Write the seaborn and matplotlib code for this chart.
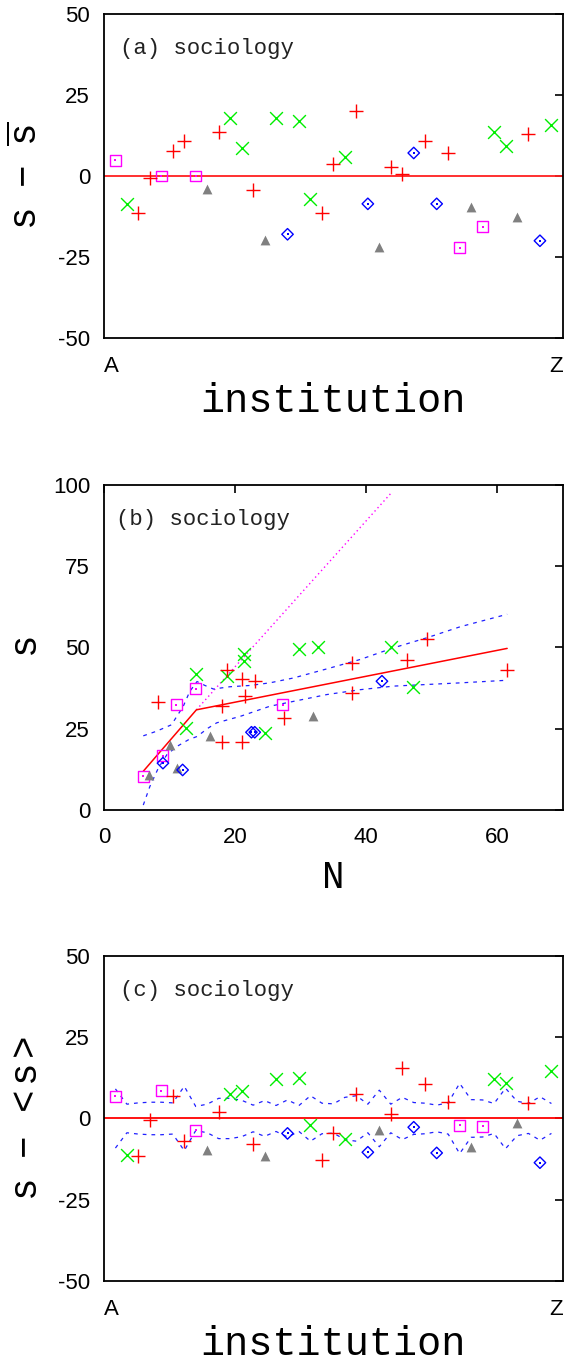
import matplotlib
matplotlib.use('Agg')
import matplotlib.pyplot as plt
import seaborn as sns
import numpy as np
import pandas as pd

# ---- data ----
# group of each institution, in A..Z order
inst_group = ['g1', 'g2', 'g3', 'g3', 'g1', 'g3', 'g3', 'g1', 'g4', 'g3',
              'g2', 'g2', 'g3', 'g4', 'g2', 'g5', 'g2', 'g2', 'g3', 'g3',
              'g2', 'g3', 'g5', 'g4', 'g3', 'g3', 'g5', 'g3', 'g5', 'g3',
              'g1', 'g4', 'g1', 'g2', 'g2', 'g4', 'g3', 'g5', 'g2']

# (a) s - mean(s)
dev_a = [4.9, -8.6, -11.5, -0.7, 0.0, 7.8, 10.7, 0.0, -4.0, 13.5,
         17.8, 8.5, -4.3, -19.8, 17.8, -18.0, 17.1, -7.2, -11.5, 3.7,
         5.8, 20.1, -8.6, -21.8, 2.9, 0.6, 7.1, 10.7, -8.6, 7.1,
         -22.2, -9.7, -15.7, 13.6, 9.3, -12.6, 12.9, -20.0, 15.6]

# (c) s - <s> and half width of the dashed band
dev_c = [6.9, -11.2, -11.4, -0.4, 8.6, 6.8, -7.0, -3.7, -9.7, 2.1,
         7.4, 8.3, -8.0, -11.4, 12.0, -4.6, 12.4, -2.0, -12.8, -4.5,
         -6.2, 7.4, -10.4, -3.7, 1.4, 15.6, -2.7, 10.5, -10.6, 5.0,
         -2.1, -8.9, -2.4, 12.2, 11.0, -1.4, 4.8, -13.6, 14.6]
band_c = [9.1, 4.4, 4.8, 5.0, 5.0, 4.8, 9.9, 3.7, 4.4, 6.2,
          6.2, 5.6, 4.1, 5.5, 4.0, 5.7, 4.0, 7.0, 4.7, 4.5,
          6.5, 7.0, 4.4, 8.7, 4.4, 6.5, 4.9, 4.7, 4.1, 4.8,
          10.8, 5.8, 5.7, 4.6, 9.3, 5.3, 4.6, 6.7, 4.6]

# (b) s versus N
N_b = [6.0, 9.0, 11.0, 14.0, 27.3,
       12.5, 14.0, 18.7, 21.3, 21.4, 24.6, 29.8, 32.6, 43.8, 47.2,
       8.3, 18.0, 18.0, 18.7, 21.0, 21.0, 21.5, 23.1, 27.5, 37.8, 37.8, 46.2, 49.3, 61.4,
       6.8, 10.0, 11.1, 16.2, 31.9,
       9.0, 12.0, 22.5, 23.0, 42.4]
s_b = [10.3, 16.7, 32.4, 37.3, 32.4,
       25.2, 41.7, 41.2, 48.1, 45.8, 23.7, 49.4, 50.1, 50.2, 37.9,
       33.1, 31.9, 20.8, 43.0, 40.3, 20.8, 35.2, 39.6, 28.4, 45.3, 36.0, 46.0, 52.5, 43.0,
       10.6, 20.1, 12.9, 22.8, 28.8,
       14.4, 12.3, 23.9, 23.9, 39.6]
grp_b = ['g1'] * 5 + ['g2'] * 10 + ['g3'] * 14 + ['g4'] * 5 + ['g5'] * 5

fit_N = [6.0, 14.1, 61.5]
fit_s = [11.9, 30.8, 49.7]
lin_N = [14.1, 43.8]
lin_s = [30.8, 97.5]
up_N = [6.0, 8.0, 10.3, 12.1, 13.1, 14.2, 15.4, 16.7, 19.2, 22.3, 25.3,
        28.9, 34.0, 39.1, 44.2, 49.3, 54.4, 61.5]
up_s = [22.8, 24.2, 26.2, 31.9, 36.5, 39.5, 38.3, 37.2, 37.9, 38.3, 39.1,
        40.6, 43.4, 46.3, 49.9, 53.0, 56.4, 60.2]
lo_N = [6.0, 7.0, 8.3, 9.6, 11.1, 12.9, 14.2, 15.9, 17.2, 20.8, 25.3,
        28.9, 34.0, 39.1, 44.2, 49.3, 54.4, 61.5]
lo_s = [1.5, 7.2, 12.9, 17.0, 19.5, 21.6, 22.6, 25.2, 26.8, 28.8, 31.9,
        33.4, 35.5, 37.0, 38.1, 38.6, 39.1, 39.9]

# ---- styling ----
sns.set_theme(style='white')
plt.rcParams['font.family'] = ['Liberation Sans', 'DejaVu Sans']
plt.rcParams['axes.unicode_minus'] = False
plt.rcParams['mathtext.fontset'] = 'custom'
plt.rcParams['mathtext.rm'] = 'Liberation Mono'
plt.rcParams['mathtext.it'] = 'Liberation Mono'
MONO = ['Liberation Mono', 'DejaVu Sans Mono']

marker_style = {
    'g1': dict(marker='s', color='#ff00ff', s=62, hollow=True),
    'g2': dict(marker='x', color='#00ee00', s=85, hollow=False),
    'g3': dict(marker='+', color='#ff0000', s=90, hollow=False),
    'g4': dict(marker='^', color='#808080', s=50, hollow=False),
    'g5': dict(marker='D', color='#0000ff', s=34, hollow=True),
}


def draw_points(ax, df):
    for g, st in marker_style.items():
        sub = df[df['group'] == g]
        if sub.empty:
            continue
        if st['hollow']:
            sns.scatterplot(data=sub, x='x', y='y', ax=ax, marker=st['marker'], s=st['s'],
                            color=st['color'], facecolor='none', edgecolor=st['color'],
                            linewidth=1.0, zorder=4)
            sns.scatterplot(data=sub, x='x', y='y', ax=ax, marker='s', s=1.5,
                            color=st['color'], linewidth=0, zorder=4)
        elif st['marker'] == '^':
            sns.scatterplot(data=sub, x='x', y='y', ax=ax, marker='^', s=st['s'],
                            color=st['color'], edgecolor=st['color'], linewidth=0, zorder=4)
        else:
            sns.scatterplot(data=sub, x='x', y='y', ax=ax, marker=st['marker'], s=st['s'],
                            color=st['color'], linewidth=1.0, zorder=4)


def frame(ax):
    for sp in ax.spines.values():
        sp.set_color('black')
        sp.set_linewidth(1.3)
    ax.tick_params(direction='in', length=6, width=1.2, color='black',
                   top=True, right=True, labelsize=16, labelcolor='black', pad=10)
    ax.grid(False)


def panel_text(ax, txt, x=0.035):
    ax.text(x, 0.895, txt, transform=ax.transAxes, ha='left', va='center',
            fontsize=16, family=MONO, color='#222222')


fig = plt.figure(figsize=(5.68, 13.61), dpi=100)
ax_a = fig.add_axes([0.183, 0.7517, 0.808, 0.2380])
ax_b = fig.add_axes([0.183, 0.4049, 0.808, 0.2388])
ax_c = fig.add_axes([0.183, 0.0588, 0.808, 0.2388])

inst = np.arange(1, len(inst_group) + 1)

# (a)
df_a = pd.DataFrame({'x': inst, 'y': dev_a, 'group': inst_group})
ax_a.axhline(0, color='#ff2020', lw=1.3, zorder=2)
draw_points(ax_a, df_a)

# (c)
df_c = pd.DataFrame({'x': inst, 'y': dev_c, 'group': inst_group})
band = pd.DataFrame({'x': inst, 'up': band_c, 'lo': -np.array(band_c)})
ax_c.axhline(0, color='#ff0000', lw=1.3, zorder=2)
sns.lineplot(data=band, x='x', y='up', ax=ax_c, color='#2020ff', lw=0.9,
             ls=(0, (3, 4)), estimator=None, sort=False, zorder=3)
sns.lineplot(data=band, x='x', y='lo', ax=ax_c, color='#2020ff', lw=0.9,
             ls=(0, (3, 4)), estimator=None, sort=False, zorder=3)
draw_points(ax_c, df_c)

for ax, lab, txt in [(ax_a, r'$\mathrm{s\ \ -\ \ \overline{s}}$', '(a) sociology'),
                     (ax_c, r'$\mathrm{s\ \ -\ \ <s>}$', '(c) sociology')]:
    ax.set_xlim(0, 40)
    ax.set_ylim(-50, 50)
    ax.set_yticks([-50, -25, 0, 25, 50])
    ax.set_xticks([0, 40])
    ax.set_xticklabels(['A', 'Z'])
    frame(ax)
    ax.tick_params(axis='x', length=0, pad=13)
    tl = ax.get_xticklabels()
    tl[0].set_ha('left')
    tl[1].set_ha('right')
    ax.set_xlabel('institution', fontsize=29, family=MONO, color='black')
    ax.xaxis.set_label_coords(0.5, -0.135)
    ax.set_ylabel(lab, fontsize=27, color='black', va='center')
    ax.yaxis.set_label_coords(-0.168, 0.5)
    panel_text(ax, txt)

# (b)
df_b = pd.DataFrame({'x': N_b, 'y': s_b, 'group': grp_b})
sns.lineplot(x=lin_N, y=lin_s, ax=ax_b, color='#ff00ff', lw=1.0,
             ls=(0, (1, 2.2)), estimator=None, sort=False, zorder=3)
sns.lineplot(x=fit_N, y=fit_s, ax=ax_b, color='#ff0000', lw=1.1,
             estimator=None, sort=False, zorder=3)
sns.lineplot(x=up_N, y=up_s, ax=ax_b, color='#2020ff', lw=0.9,
             ls=(0, (3, 4)), estimator=None, sort=False, zorder=3)
sns.lineplot(x=lo_N, y=lo_s, ax=ax_b, color='#2020ff', lw=0.9,
             ls=(0, (3, 4)), estimator=None, sort=False, zorder=3)
draw_points(ax_b, df_b)
ax_b.set_xlim(0, 70)
ax_b.set_ylim(0, 100)
ax_b.set_xticks([0, 20, 40, 60])
ax_b.set_yticks([0, 25, 50, 75, 100])
frame(ax_b)
ax_b.tick_params(axis='x', pad=12)
ax_b.set_xlabel('N', fontsize=27, family=MONO, color='black')
ax_b.xaxis.set_label_coords(0.5, -0.155)
ax_b.set_ylabel(r'$\mathrm{s}$', fontsize=27, color='black', va='center')
ax_b.yaxis.set_label_coords(-0.168, 0.5)
panel_text(ax_b, '(b) sociology', x=0.026)

fig.savefig('out.png', dpi=100)
